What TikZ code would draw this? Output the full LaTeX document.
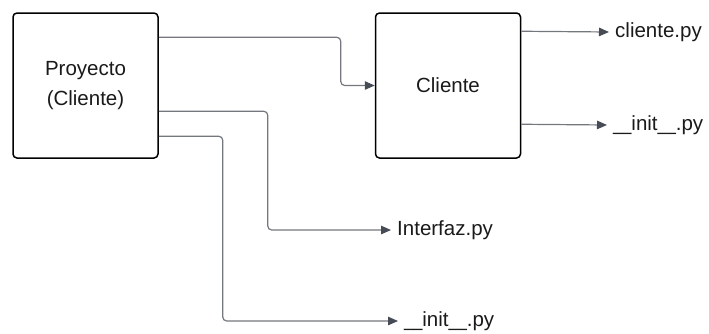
\documentclass[tikz,border=0pt]{standalone}
\usepackage{fontspec}
\setmainfont{Liberation Sans}
\usetikzlibrary{arrows.meta}
\definecolor{linegray}{HTML}{74777D}
\definecolor{tipgray}{HTML}{464B55}
\definecolor{ink}{HTML}{1A1A1A}
% a slightly narrower underscore
\newcommand{\nus}{\scalebox{0.8}[1]{\_}}
\tikzset{
  box/.style={draw=black, line width=1.5pt, rounded corners=4pt, fill=white,
    minimum width=145pt, minimum height=145pt, inner sep=0pt, align=center,
    font=\fontsize{20.5}{30}\selectfont, text=ink},
  file/.style={anchor=west, inner xsep=6pt, inner ysep=0pt,
    font=\fontsize{20.5}{24}\selectfont, text=ink},
  conn/.style={draw=linegray, line width=1.2pt, rounded corners=4pt,
    -{Triangle[length=10pt,width=8.5pt,color=tipgray]}},
}
\begin{document}
\begin{tikzpicture}[x=1pt,y=-1pt]
  \useasboundingbox (0,0) rectangle (709,333);
  % folders
  \node[box] (proj) at (85.5,85.5) {Proyecto\\(Cliente)};
  \node[box] (cli)  at (448,85.5) {Cliente};
  % files
  \node[file] (clipy)    at (609,32)  {cliente.py};
  \node[file] (initcli)  at (607,125) {\nus\nus init\nus\nus.py};
  \node[file] (interfaz) at (391,230) {Interfaz.py};
  \node[file] (initproj) at (398,321) {\nus\nus init\nus\nus.py};
  % connectors
  \draw[conn] ([yshift=-25pt]proj.north east) -- ++(182,0) |- (cli.west);
  \draw[conn] ([yshift=-99pt]proj.north east) -- ++(109,0) |- (interfaz.west);
  \draw[conn] ([yshift=-124pt]proj.north east) -- ++(64,0) |- (initproj.west);
  \draw[conn] ([yshift=-19pt]cli.north east) -- (clipy.west);
  \draw[conn] ([yshift=-112pt]cli.north east) -- (initcli.west);
\end{tikzpicture}
\end{document}
